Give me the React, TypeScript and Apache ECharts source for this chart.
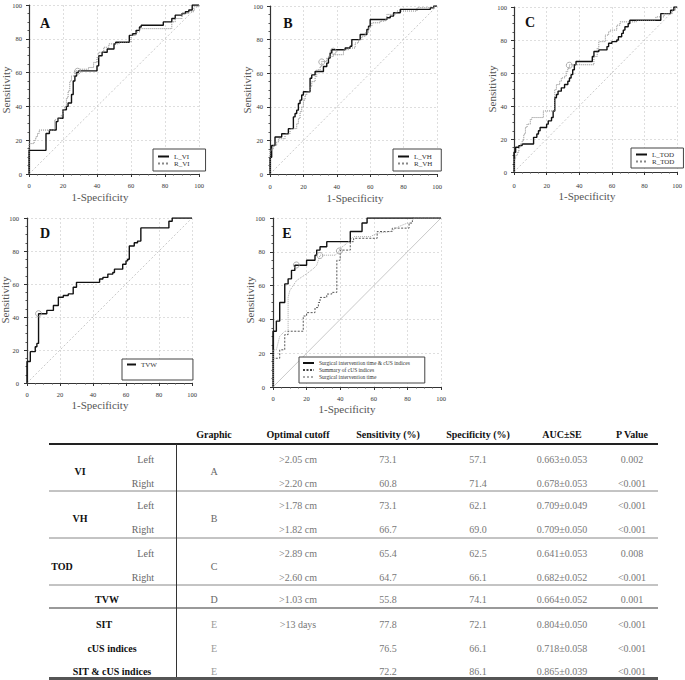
import React, { useEffect, useRef } from "react";
import * as echarts from "echarts";

const FONT = "'Liberation Serif', 'DejaVu Serif', serif";
const tickValues = [0, 20, 40, 60, 80, 100];

// ROC curves: [1-Specificity, Sensitivity]
const leftVI = [[0,0],[0,14],[10,14],[10,24],[12,24],[12,26],[16,26],[16,31],[17,33],[19,33],[20,38],[22,40],[23,42],[25,47],[26,55],[27,58],[28,60],[29,61],[35,61],[40,64],[41,70],[43,72],[46,74],[50,74],[50,77],[51,78],[58,78],[59,82],[61,83],[63,85],[65,87],[66,88],[79,88],[79,90],[84,90],[84,92],[86,94],[90,95],[92,96],[94,97],[96,100],[100,100]];
const rightVI = [[0,0],[0,18],[1,18],[3,20],[4,22],[5,24],[6,26],[14,26],[15,32],[17,33],[19,35],[20,38],[21,40],[22,45],[23,49],[24,55],[25,58],[27,61],[30,62],[35,63],[38,66],[40,69],[41,72],[44,75],[47,77],[53,78],[58,78],[60,82],[63,84],[65,86],[84,86],[84,90],[86,92],[90,95],[94,96],[97,99],[100,100]];
const leftVH = [[0,0],[0,10],[1,10],[1,17],[3,17],[3,22],[6,22],[7,24],[10,24],[11,27],[14,27],[14,34],[15,36],[16,38],[17,42],[18,44],[19,47],[20,49],[23,49],[24,57],[25,59],[27,61],[32,61],[32,64],[34,66],[35,69],[36,72],[37,74],[45,74],[45,75],[48,76],[49,80],[53,80],[54,83],[56,83],[58,86],[59,88],[60,92],[70,92],[70,93],[72,94],[74,96],[77,96],[78,98],[96,98],[96,99],[98,100],[100,100]];
const rightVH = [[0,0],[0,14],[1,15],[2,17],[4,19],[5,21],[8,21],[9,24],[11,24],[12,27],[15,27],[16,30],[17,33],[18,37],[19,40],[20,44],[21,47],[22,49],[24,52],[25,55],[27,58],[28,62],[30,64],[31,67],[34,69],[35,70],[38,71],[42,71],[44,74],[47,75],[51,78],[53,80],[55,82],[57,84],[59,87],[60,88],[61,90],[66,91],[69,92],[70,95],[75,96],[76,97],[88,97],[88,99],[96,99],[98,100],[100,100]];
const leftTOD = [[0,0],[0,12],[1,12],[1,15],[3,16],[5,17],[12,17],[12,21],[14,23],[15,25],[16,27],[19,27],[20,29],[21,31],[23,33],[24,37],[25,45],[26,47],[27,49],[29,51],[31,53],[33,55],[34,57],[35,59],[36,62],[37,65],[38,67],[47,67],[48,70],[49,73],[52,74],[55,74],[57,76],[58,78],[60,79],[63,80],[64,82],[66,84],[67,86],[68,88],[70,90],[71,92],[90,92],[90,96],[94,96],[96,98],[98,100],[100,100]];
const rightTOD = [[0,0],[0,8],[1,10],[2,12],[3,15],[4,17],[5,19],[6,23],[7,27],[8,29],[10,32],[11,33],[18,33],[18,37],[24,37],[25,50],[26,53],[28,55],[29,57],[31,58],[32,61],[33,63],[34,65],[48,65],[49,70],[51,75],[52,79],[55,79],[56,83],[58,85],[59,86],[62,86],[63,89],[65,91],[74,91],[75,92],[86,92],[87,94],[90,94],[92,96],[96,96],[97,98],[99,100],[100,100]];
const tvwCurve = [[0,0],[0,13],[2,13],[2,19],[4,19],[5,22],[6,24],[7,25],[7,42],[11,42],[12,44],[16,44],[16,47],[18,47],[19,52],[22,53],[25,54],[28,55],[28,58],[30,58],[30,61],[44,61],[44,63],[46,64],[49,66],[52,67],[53,69],[58,69],[58,72],[60,74],[61,75],[62,77],[62,83],[64,83],[65,85],[67,86],[69,86],[69,94],[86,94],[86,98],[88,100],[100,100]];
const sitCusCurve = [[0,0],[0,33],[2,33],[2,39],[4,39],[4,50],[7,50],[7,61],[9,61],[9,64],[11,64],[11,69],[13,69],[13,72],[20,72],[20,75],[23,75],[25,78],[26,81],[28,81],[28,83],[32,83],[32,86],[46,86],[46,92],[53,92],[53,97],[56,97],[56,100],[100,100]];
const cusCurve = [[0,0],[0,17],[4,17],[4,22],[7,22],[7,31],[9,33],[18,33],[18,42],[20,42],[20,44],[24,44],[25,47],[27,50],[28,53],[32,53],[32,55],[35,56],[38,56],[38,75],[39,75],[40,81],[46,81],[46,86],[48,86],[48,88],[62,88],[62,92],[70,92],[71,94],[81,94],[81,97],[83,97],[83,100],[100,100]];
const sitCurve = [[0,0],[0,22],[2,22],[4,30],[7,33],[9,33],[9,53],[10,57],[12,60],[14,63],[17,65],[20,67],[24,70],[26,72],[27,75],[28,78],[37,78],[39,80],[40,82],[44,85],[46,87],[48,89],[58,89],[62,91],[70,92],[75,95],[80,97],[82,97],[84,100],[100,100]];

// optimal cut-off markers
const cutA = [[28.6, 60.8]];
const cutB = [[31, 66.7], [37.9, 73.1]];
const cutC = [[33.9, 64.7]];
const cutD = [[7, 42]];
const cutE = [[13.9, 72.2], [27.9, 77.8], [39.5, 80.5]];
const diagonal = [[0, 0], [100, 100]];

// table
const tableHeaders = ["Graphic", "Optimal cutoff", "Sensitivity (%)", "Specificity (%)", "AUC±SE", "P Value"];
const measures = ["VI", "VH", "TOD", "TVW", "SIT", "cUS indices", "SIT & cUS indices"];
const measureGraphics = ["A", "B", "C", "D", "E", "E", "E"];
const sides = ["Left", "Right", "Left", "Right", "Left", "Right", "", "", "", ""];
const cutoffs = [">2.05 cm", ">2.20 cm", ">1.78 cm", ">1.82 cm", ">2.89 cm", ">2.60 cm", ">1.03 cm", ">13 days", "", ""];
const sensitivities = ["73.1", "60.8", "73.1", "66.7", "65.4", "64.7", "55.8", "77.8", "76.5", "72.2"];
const specificities = ["57.1", "71.4", "62.1", "69.0", "62.5", "66.1", "74.1", "72.1", "66.1", "86.1"];
const aucs = ["0.663±0.053", "0.678±0.053", "0.709±0.049", "0.709±0.050", "0.641±0.053", "0.682±0.052", "0.664±0.052", "0.804±0.050", "0.718±0.058", "0.865±0.039"];
const pValues = ["0.002", "<0.001", "<0.001", "<0.001", "0.008", "<0.001", "0.001", "<0.001", "<0.001", "<0.001"];

const solid = { color: "#111", width: 1.4, type: "solid" };
const dotted = { color: "#888", width: 1, type: "dotted" };

const panels = [
  { letter: "A", grid: { left: 29, top: 5, width: 170, height: 169 }, yOff: 4, xOff: 5, letterPos: [45, 23], sensPos: [6, 90], specPos: [100, 197],
    legend: { left: 153, top: 149, padding: [4, 16, 4, 4], itemWidth: 11, fontSize: 7, lineHeight: 7 },
    curves: [{ name: "L_VI", data: leftVI, style: solid, step: true }, { name: "R_VI", data: rightVI, style: dotted, step: true }], cuts: cutA, diagType: "dotted" },
  { letter: "B", grid: { left: 270, top: 6, width: 167, height: 168 }, yOff: 4, xOff: 6, letterPos: [288, 23], sensPos: [247, 90], specPos: [355, 198],
    legend: { left: 393, top: 149, padding: [4, 9, 4, 4], itemWidth: 11, fontSize: 7, lineHeight: 7 },
    curves: [{ name: "L_VH", data: leftVH, style: solid, step: true }, { name: "R_VH", data: rightVH, style: dotted, step: true }], cuts: cutB, diagType: "dotted" },
  { letter: "C", grid: { left: 514, top: 7, width: 165, height: 165 }, yOff: 4, xOff: 7, letterPos: [530, 22], sensPos: [492, 89], specPos: [587, 196],
    legend: { left: 631, top: 148, padding: [3, 9, 3, 4], itemWidth: 11, fontSize: 7, lineHeight: 7 },
    curves: [{ name: "L_TOD", data: leftTOD, style: solid, step: true }, { name: "R_TOD", data: rightTOD, style: dotted, step: true }], cuts: cutC, diagType: "dotted" },
  { letter: "D", grid: { left: 27, top: 218, width: 165, height: 165 }, yOff: 5, xOff: 5, letterPos: [45, 233], sensPos: [5, 300], specPos: [100, 405],
    legend: { left: 122, top: 359, padding: [2, 36, 12, 4], itemWidth: 9, fontSize: 7, lineHeight: 7 },
    curves: [{ name: "TVW", data: tvwCurve, style: solid, step: true }], cuts: cutD, diagType: "dotted" },
  { letter: "E", grid: { left: 273, top: 218, width: 168, height: 169 }, yOff: 5, xOff: 5, letterPos: [287, 233], sensPos: [250, 300], specPos: [347, 409],
    legend: { left: 299, top: 357, padding: [2.5, 15, 2.5, 3], itemWidth: 11, fontSize: 5.5, lineHeight: 7 },
    curves: [
      { name: "Surgical intervention time & cUS indices", data: sitCusCurve, style: solid, step: true },
      { name: "Summary of cUS indices", data: cusCurve, style: { color: "#444", width: 0.9, type: [2, 1.5] }, step: true },
      { name: "Surgical intervention time", data: sitCurve, style: { color: "#aaa", width: 1, type: "dotted" }, step: false },
    ], cuts: cutE, diagType: "solid" },
];

// table layout
const tableLeft = 49, tableRight = 658;
const headerY = 434;
const rowY = [459, 483, 505, 529, 553, 577, 599, 624, 648, 671];
const measureY = [471, 518, 566, 599, 624, 648, 671];
const measureX = [80, 80, 62, 107, 104, 112, 112];
const colX = [214, 298, 388, 478, 562, 632];
const hLines = [
  { y: 444, w: 2, c: "#222" }, { y: 491, w: 1, c: "#888" }, { y: 538, w: 1, c: "#888" },
  { y: 585, w: 1, c: "#888" }, { y: 608, w: 2, c: "#999" }, { y: 678.5, w: 3, c: "#555" },
];

function buildOption() {
  const grids: any[] = [], xAxes: any[] = [], yAxes: any[] = [], series: any[] = [], legends: any[] = [], graphics: any[] = [];
  panels.forEach((p, i) => {
    grids.push({ ...p.grid, containLabel: false });
    const common = {
      type: "value", min: 0, max: 100, interval: 20, gridIndex: i,
      axisLine: { show: true, lineStyle: { color: "#333", width: 1.2 } },
      axisTick: { show: true, length: 3, lineStyle: { color: "#333" } },
      minorTick: { show: true, splitNumber: 4, length: 1.5, lineStyle: { color: "#555" } },
      splitLine: { show: true, lineStyle: { color: "#d0d0d0", type: [2, 2], width: 0.7 } },
      axisLabel: { fontSize: 6.5, color: "#333", fontFamily: FONT, margin: 3 },
    };
    xAxes.push({ ...common, position: "bottom", offset: p.xOff });
    yAxes.push({ ...common, position: "left", offset: p.yOff });
    series.push({
      type: "line", name: "diag" + i, xAxisIndex: i, yAxisIndex: i, data: diagonal, symbol: "none", silent: true,
      lineStyle: { color: "#bbb", width: 0.8, type: p.diagType === "dotted" ? [2, 2] : "solid" }, z: 1,
    });
    p.curves.forEach((c) => {
      series.push({
        type: "line", name: c.name, xAxisIndex: i, yAxisIndex: i, data: c.data, symbol: "none", showSymbol: false,
        step: c.step ? "end" : false, lineStyle: c.style, itemStyle: { color: c.style.color }, z: 3,
      });
    });
    series.push({
      type: "scatter", name: "cut" + i, xAxisIndex: i, yAxisIndex: i, data: p.cuts, symbol: "circle", symbolSize: 6,
      itemStyle: { color: "rgba(255,255,255,0)", borderColor: "#999", borderWidth: 1 }, z: 4, silent: true,
    });
    legends.push({
      show: true, orient: "vertical", left: p.legend.left, top: p.legend.top, padding: p.legend.padding,
      itemWidth: p.legend.itemWidth, itemHeight: 4, itemGap: 0, selectedMode: false,
      borderColor: "#444", borderWidth: 1, backgroundColor: "#fff",
      itemStyle: { opacity: 0, borderWidth: 0 },
      data: p.curves.map((c) => c.name),
      textStyle: { fontSize: p.legend.fontSize, lineHeight: p.legend.lineHeight, fontFamily: FONT, color: "#333" },
    });
    graphics.push({ type: "text", x: p.letterPos[0], y: p.letterPos[1], style: { text: p.letter, font: `bold 14px ${FONT}`, fill: "#111", align: "center", verticalAlign: "middle" } });
    graphics.push({ type: "text", x: p.sensPos[0], y: p.sensPos[1], rotation: Math.PI / 2, style: { text: "Sensitivity", font: `11px ${FONT}`, fill: "#555", align: "center", verticalAlign: "middle" } });
    graphics.push({ type: "text", x: p.specPos[0], y: p.specPos[1], style: { text: "1-Specificity", font: `11px ${FONT}`, fill: "#555", align: "center", verticalAlign: "middle" } });
  });

  // table
  const txt = (x: number, y: number, text: string, font: string, fill: string, align = "center") => ({
    type: "text", x, y, style: { text, font, fill, align, verticalAlign: "middle" },
  });
  tableHeaders.forEach((h, j) => graphics.push(txt(colX[j], headerY, h, `bold 10px ${FONT}`, "#111")));
  hLines.forEach((l) => graphics.push({ type: "line", shape: { x1: tableLeft, y1: l.y, x2: tableRight, y2: l.y }, style: { stroke: l.c, lineWidth: l.w } }));
  graphics.push({ type: "line", shape: { x1: 176.5, y1: 444, x2: 176.5, y2: 677 }, style: { stroke: "#333", lineWidth: 1 } });
  measures.forEach((m, k) => {
    graphics.push(txt(measureX[k], measureY[k], m, `bold 10px ${FONT}`, "#111"));
    graphics.push(txt(colX[0], measureY[k], measureGraphics[k], `10px ${FONT}`, k >= 4 ? "#999" : "#666"));
  });
  rowY.forEach((y, r) => {
    if (sides[r]) graphics.push(txt(154, y, sides[r], `10px ${FONT}`, "#666", "right"));
    if (cutoffs[r]) graphics.push(txt(colX[1], y, cutoffs[r], `10px ${FONT}`, "#777"));
    graphics.push(txt(colX[2], y, sensitivities[r], `10px ${FONT}`, "#777"));
    graphics.push(txt(colX[3], y, specificities[r], `10px ${FONT}`, "#777"));
    graphics.push(txt(colX[4], y, aucs[r], `10px ${FONT}`, "#777"));
    graphics.push(txt(colX[5], y, pValues[r], `10px ${FONT}`, "#777"));
  });

  return {
    animation: false,
    backgroundColor: "#fff",
    textStyle: { fontFamily: FONT },
    grid: grids, xAxis: xAxes, yAxis: yAxes, series, legend: legends, graphic: graphics,
  };
}

export default function App() {
  const ref = useRef<HTMLDivElement>(null);
  useEffect(() => {
    if (!ref.current) return;
    const chart = echarts.init(ref.current, null, { renderer: "svg" });
    chart.setOption(buildOption() as any);
    return () => chart.dispose();
  }, []);
  return <div ref={ref} style={{ position: "absolute", left: 0, top: 0, width: 685, height: 680 }} />;
}
